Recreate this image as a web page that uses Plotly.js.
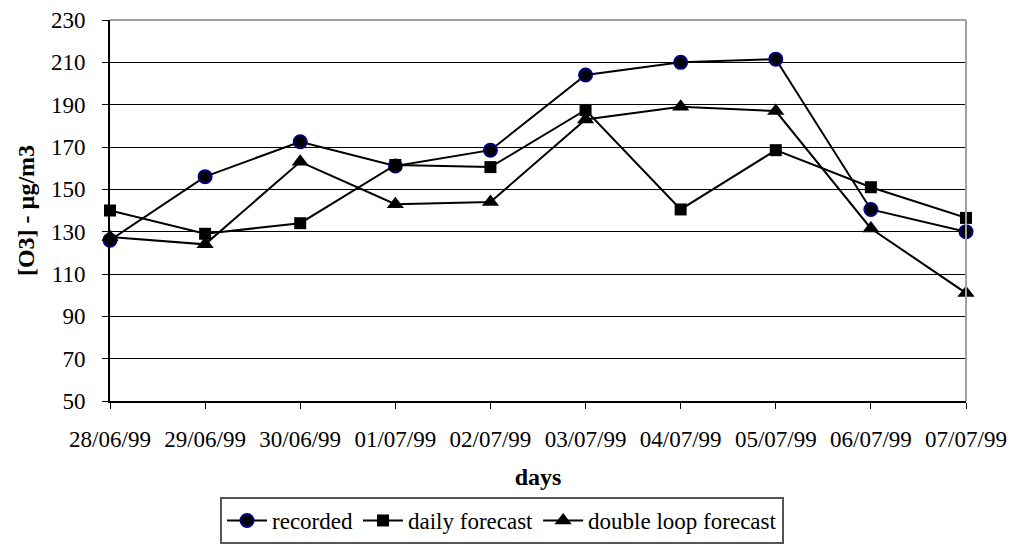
<!DOCTYPE html>
<html>
<head>
<meta charset="utf-8">
<script src="https://cdn.plot.ly/plotly-3.0.1.min.js"></script>
<style>
  html, body { margin: 0; padding: 0; background: #fff; }
  #chart { width: 1012px; height: 560px; }
</style>
</head>
<body>
<div id="chart"></div>
<script>
// Ozone concentration per day: measured values and two forecast models
const days = ['28/06/99', '29/06/99', '30/06/99', '01/07/99', '02/07/99',
              '03/07/99', '04/07/99', '05/07/99', '06/07/99', '07/07/99'];
const recorded = [126, 156, 172.5, 161, 168.5, 204, 210, 211.5, 140.5, 130];
const dailyForecast = [140, 129, 134, 161.5, 160.5, 187.5, 140.5, 168.5, 151, 136.5];
const doubleLoopForecast = [127.5, 124, 163, 143, 144, 183, 189, 187, 131.5, 101];
const yTicks = [50, 70, 90, 110, 130, 150, 170, 190, 210, 230];

const serif = 'Liberation Serif, Times New Roman, serif';

const traces = [
  {
    name: 'recorded', x: days, y: recorded, type: 'scatter', mode: 'lines+markers',
    line: { color: '#000', width: 2 },
    marker: { symbol: 'circle', size: 13, color: '#000', line: { color: '#000080', width: 2 } },
    cliponaxis: false
  },
  {
    name: 'daily forecast', x: days, y: dailyForecast, type: 'scatter', mode: 'lines+markers',
    line: { color: '#000', width: 2 },
    marker: { symbol: 'square', size: 12, color: '#000', line: { color: '#000', width: 0 } },
    cliponaxis: false
  },
  {
    name: 'double loop forecast', x: days, y: doubleLoopForecast, type: 'scatter', mode: 'lines+markers',
    line: { color: '#000', width: 2 },
    marker: { symbol: 'triangle-up', size: 15, color: '#000', line: { color: '#000', width: 0 } },
    cliponaxis: false
  }
];

const layout = {
  width: 1012, height: 560,
  margin: { l: 110, r: 46, t: 20, b: 159, autoexpand: false },
  paper_bgcolor: '#fff', plot_bgcolor: '#fff',
  font: { family: serif, size: 23, color: '#000' },
  showlegend: true,
  legend: {
    orientation: 'h', xref: 'paper', x: 0.458, xanchor: 'center',
    y: -0.252, yanchor: 'top',
    bordercolor: '#555', borderwidth: 2, bgcolor: '#fff',
    font: { family: serif, size: 23, color: '#000' },
    itemwidth: 40, tracegroupgap: 0
  },
  xaxis: {
    type: 'category', range: [0, 9], automargin: false,
    showgrid: false, zeroline: false,
    showline: true, linecolor: '#000', linewidth: 2,
    ticks: 'outside', ticklen: 6, tickwidth: 1, tickcolor: '#000',
    tickfont: { family: serif, size: 23 }, tickangle: 0,
    ticklabelstandoff: 10,
    title: { text: '<b>days</b>', font: { family: serif, size: 24 }, standoff: 18 }
  },
  yaxis: {
    range: [50, 230], tickvals: yTicks, automargin: false,
    showgrid: true, gridcolor: '#000', gridwidth: 1,
    zeroline: false,
    showline: true, linecolor: '#000', linewidth: 2,
    ticks: 'outside', ticklen: 6, tickwidth: 1, tickcolor: '#000',
    tickfont: { family: serif, size: 23 },
    ticklabelstandoff: 12,
    title: { text: '<b>[O3] - µg/m3</b>', font: { family: serif, size: 24 }, standoff: 10 }
  },
  shapes: [
    { type: 'line', xref: 'paper', yref: 'paper', x0: 0, x1: 1, y0: 1, y1: 1,
      line: { color: '#a0a0a0', width: 2 }, layer: 'above' },
    { type: 'line', xref: 'paper', yref: 'paper', x0: 1, x1: 1, y0: 0, y1: 1,
      line: { color: '#a0a0a0', width: 2 }, layer: 'above' }
  ]
};

Plotly.newPlot('chart', traces, layout, { displayModeBar: false, responsive: false });
</script>
</body>
</html>
